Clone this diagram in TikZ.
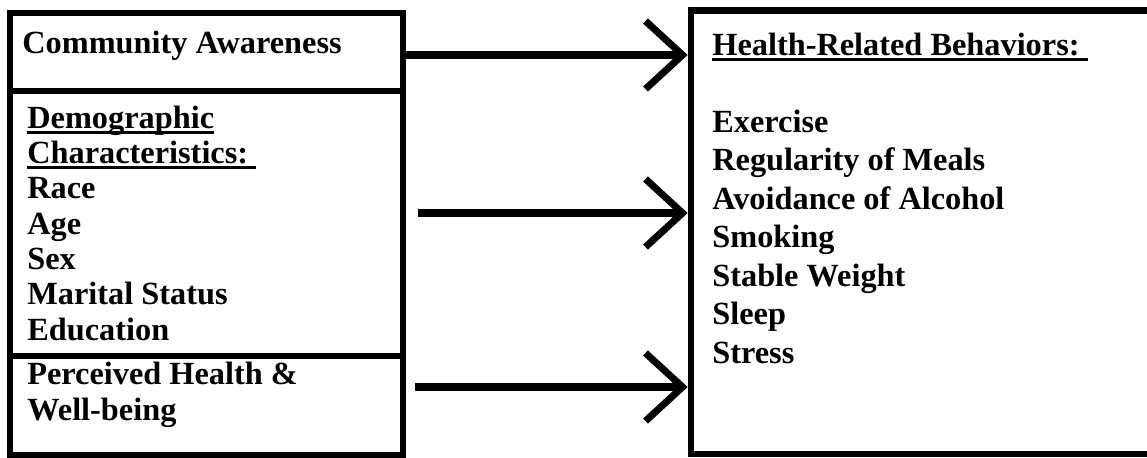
\documentclass[tikz,border=0pt]{standalone}
\usepackage{fontspec}
\setmainfont{Liberation Serif}
\usetikzlibrary{arrows.meta, positioning}

\newcommand{\garisbawah}[1]{\setbox0\hbox{#1}\rlap{\rule[-3.2pt]{\wd0}{1.7pt}}\box0}

\begin{document}
\begin{tikzpicture}[
    x=0.02cm, y=-0.02cm,
    kotak/.style={draw, line width=3.8pt, inner sep=0pt, minimum width=7.86cm},
    isi/.style={anchor=base west, align=left, inner sep=0pt,
                font=\fontsize{18.4}{20.1}\selectfont\bfseries},
    panah/.style={-{Straight Barb[length=0.74cm, width=1.36cm]}, line width=4pt}
  ]
    \useasboundingbox (0,0) rectangle (1147,457);
    \node[kotak, minimum height=1.56cm] (kesadaran) at (206.5,52) {};
    \node[kotak, minimum height=5.30cm] (demografi) at (206.5,223.5) {};
    \node[kotak, minimum height=1.98cm] (persepsi) at (206.5,405.5) {};
    \node[kotak, minimum width=9.78cm, minimum height=8.87cm]
      (perilaku) at (935.5,232.25) {};

    % base anchor = baseline of the last line
    \node[isi] (t-kesadaran) at (22,53) {Community Awareness};
    \node[isi] (t-demografi) at (27,340)
      {\garisbawah{Demographic}\\\garisbawah{Characteristics:\ }\\Race\\Age\\Sex\\
       Marital Status\\Education};
    \node[isi] (t-persepsi) at (27,420) {Perceived Health \&\\Well-being};
    \node[isi, font=\fontsize{18.4}{21.9}\selectfont\bfseries] (t-perilaku) at (712,363)
      {\garisbawah{Health-Related Behaviors:\ }\\[21.9pt]Exercise\\Regularity of Meals\\
       Avoidance of Alcohol\\Smoking\\Stable Weight\\Sleep\\Stress};

    \draw[panah] ([yshift=-0.06cm]kesadaran.east)
      -- ([yshift=-0.06cm]kesadaran.east -| perilaku.west);
    \draw[panah, shorten <=0.24cm] ([yshift=0.21cm]demografi.east)
      -- ([yshift=0.21cm]demografi.east -| perilaku.west);
    \draw[panah, shorten <=0.18cm] ([yshift=0.37cm]persepsi.east)
      -- ([yshift=0.37cm]persepsi.east -| perilaku.west);
  \end{tikzpicture}
\end{document}
